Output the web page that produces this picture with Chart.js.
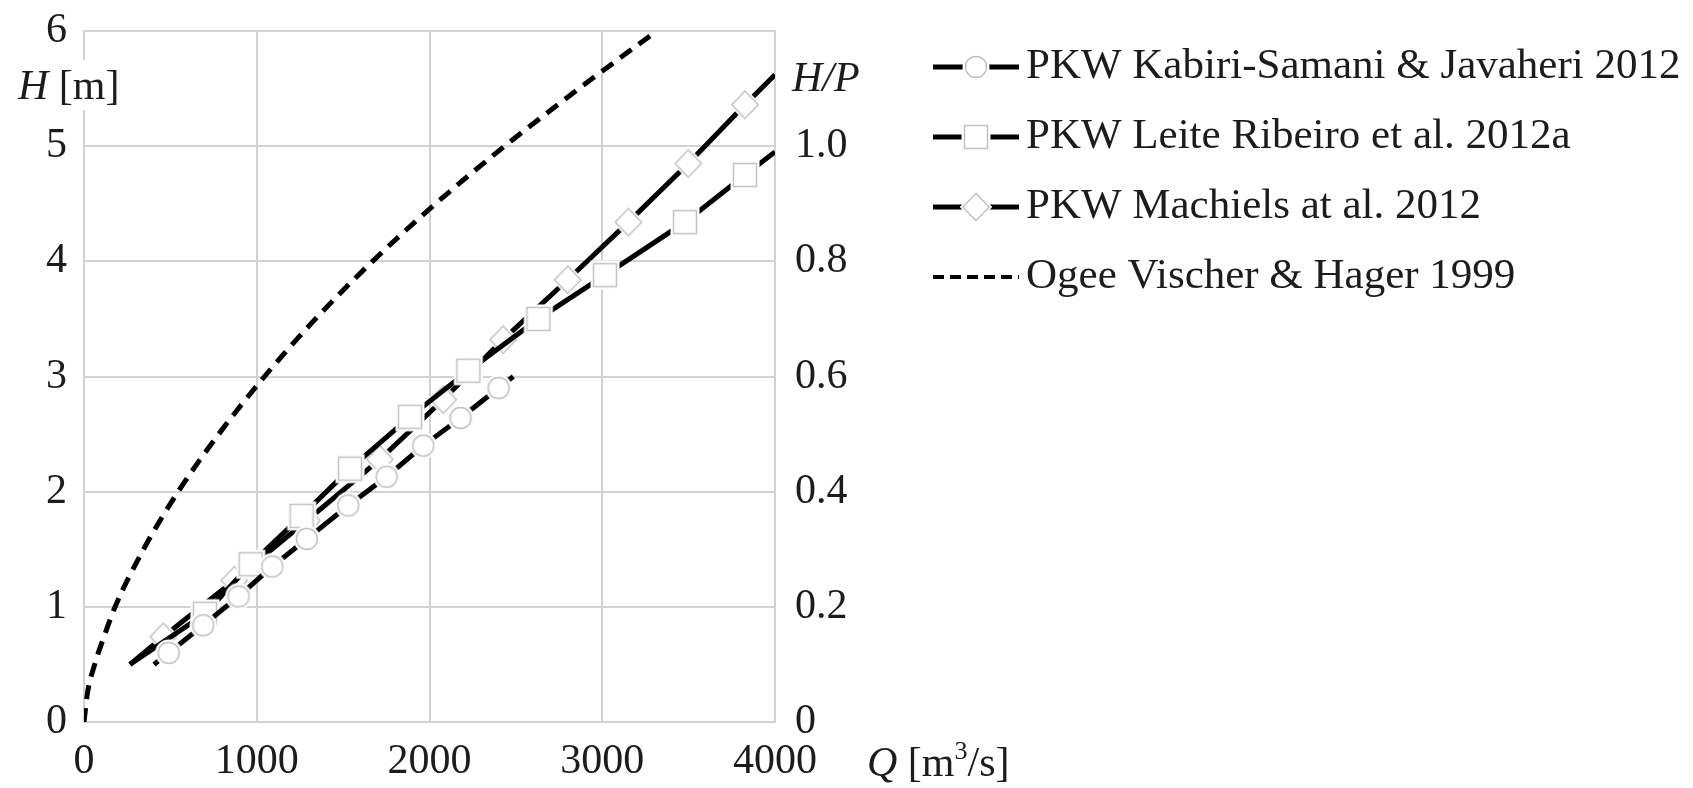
<!DOCTYPE html>
<html>
<head>
  <title>PKW rating curves</title>
  <meta name="viewport" content="width=device-width, initial-scale=1">
  <script src="https://cdn.jsdelivr.net/npm/chart.js"></script>
  <style>
    html, body {
      margin: 0;
      padding: 0;
      background: #fff;
      overflow: hidden;
    }

    #chart-container {
      width: 1693px;
      height: 788px;
    }
  </style>
</head>
<body>

  <div id="chart-container">
    <canvas id="myChart"></canvas>
  </div>

  <script>
    // values: Q [m3/s] against H [m]
    const seriesNames = [
      'PKW Kabiri-Samani & Javaheri 2012',
      'PKW Leite Ribeiro et al. 2012a',
      'PKW Machiels at al. 2012',
      'Ogee Vischer & Hager 1999'
    ];

    const qKabiri = [405, 490, 690, 895, 1090, 1290, 1530, 1752, 1964, 2180, 2400, 2485];
    const hKabiri = [0.50, 0.60, 0.84, 1.09, 1.35, 1.59, 1.88, 2.13, 2.40, 2.64, 2.90, 3.00];

    const qLeite = [266, 700, 965, 1260, 1540, 1887, 2225, 2630, 3016, 3479, 3826, 4000];
    const hLeite = [0.50, 0.94, 1.37, 1.79, 2.20, 2.65, 3.05, 3.50, 3.88, 4.34, 4.75, 4.95];

    const qMachiels = [266, 459, 870, 1290, 1713, 2080, 2426, 2800, 3151, 3498, 3826, 4000];
    const hMachiels = [0.50, 0.74, 1.23, 1.75, 2.28, 2.80, 3.32, 3.84, 4.34, 4.85, 5.36, 5.62];

    const qOgee = [0, 20, 62, 118, 180, 345, 545, 780, 1045, 1340, 1670, 2035, 2435, 2865, 3315];
    const hOgee = [0, 0.25, 0.50, 0.75, 1.00, 1.50, 2.00, 2.50, 3.00, 3.50, 4.00, 4.50, 5.00, 5.50, 6.00];

    const qTicks = [0, 1000, 2000, 3000, 4000];
    const hTicks = [0, 1, 2, 3, 4, 5, 6];
    const hpTicks = [0, 0.2, 0.4, 0.6, 0.8, 1.0];

    const SERIF = '"Liberation Serif", "Times New Roman", serif';
    const INK = '#1c1c1c';

    function pairs(xs, ys) {
      return xs.map((x, i) => ({ x: x, y: ys[i] }));
    }

    // white marker with faint grey outline and a small white halo
    function markerImage(shape) {
      const size = 38, m = size / 2;
      const c = document.createElement('canvas');
      c.width = size;
      c.height = size;
      const g = c.getContext('2d');
      function path(r) {
        g.beginPath();
        if (shape === 'circle') {
          g.arc(m, m, r, 0, Math.PI * 2);
        } else if (shape === 'square') {
          g.rect(m - r, m - r, 2 * r, 2 * r);
        } else {
          g.moveTo(m, m - r * 1.1);
          g.lineTo(m + r * 1.05, m);
          g.lineTo(m, m + r * 1.1);
          g.lineTo(m - r * 1.05, m);
          g.closePath();
        }
      }
      const r = shape === 'circle' ? 10.5 : (shape === 'square' ? 11.5 : 12.5);
      g.fillStyle = '#fff';
      path(r + 3);
      g.fill();
      path(r);
      g.fill();
      g.strokeStyle = '#c2c2c2';
      g.lineWidth = 1.5;
      g.stroke();
      return c;
    }

    const markers = [markerImage('circle'), markerImage('square'), markerImage('diamond')];

    // no marker on the first and last vertex of each curve
    const endFree = c => (c.dataIndex === 0 || c.dataIndex === c.dataset.data.length - 1) ? 0 : 11;

    function pkwSet(i, data) {
      return {
        label: seriesNames[i],
        data: data,
        showLine: true,
        borderColor: '#000',
        borderWidth: 5,
        tension: 0,
        pointStyle: markers[i],
        pointRadius: endFree,
        pointHoverRadius: endFree
      };
    }

    // legend and axis titles drawn as text on the canvas
    const figureText = {
      id: 'figureText',
      afterDraw(chart) {
        const ctx = chart.ctx;
        ctx.save();
        ctx.fillStyle = INK;
        ctx.textBaseline = 'alphabetic';
        ctx.textAlign = 'left';

        function run(parts, x, y) {
          parts.forEach(p => {
            ctx.font = p.font;
            ctx.fillText(p.text, x, y + (p.dy || 0));
            x += ctx.measureText(p.text).width;
          });
        }
        const up = '42px ' + SERIF;
        const it = 'italic 42px ' + SERIF;

        // H [m] sits over the left axis line
        ctx.fillStyle = '#fff';
        ctx.fillRect(14, 60, 114, 50);
        ctx.fillStyle = INK;
        run([{ text: 'H', font: it }, { text: ' [m]', font: up }], 18, 99);
        run([{ text: 'H/P', font: it }], 792, 91);
        run([
          { text: 'Q', font: it },
          { text: ' [m', font: up },
          { text: '3', font: '26px ' + SERIF, dy: -17 },
          { text: '/s]', font: up }
        ], 867, 776);

        // legend
        chart.data.datasets.forEach((ds, i) => {
          const y = 67 + 70 * i;
          ctx.strokeStyle = '#000';
          ctx.beginPath();
          if (i < 3) {
            ctx.lineWidth = 5;
            ctx.setLineDash([]);
          } else {
            ctx.lineWidth = 4;
            ctx.setLineDash([11, 6]);
          }
          ctx.moveTo(933, y);
          ctx.lineTo(1019, y);
          ctx.stroke();
          ctx.setLineDash([]);
          if (i < 3) {
            const img = markers[i];
            ctx.drawImage(img, 976 - img.width / 2, y - img.height / 2);
          }
          ctx.font = '43px ' + SERIF;
          ctx.fillStyle = INK;
          ctx.textBaseline = 'middle';
          ctx.fillText(ds.label, 1026, y);
        });
        ctx.restore();
      }
    };

    const gridColor = '#d2d2d2';

    const ctx = document.getElementById('myChart').getContext('2d');
    const chart = new Chart(ctx, {
      type: 'scatter',
      data: {
        datasets: [
          pkwSet(0, pairs(qKabiri, hKabiri)),
          pkwSet(1, pairs(qLeite, hLeite)),
          pkwSet(2, pairs(qMachiels, hMachiels)),
          {
            label: seriesNames[3],
            data: pairs(qOgee, hOgee),
            showLine: true,
            borderColor: '#000',
            borderWidth: 5,
            borderDash: [14, 9],
            cubicInterpolationMode: 'monotone',
            pointRadius: 0,
            pointHoverRadius: 0
          }
        ]
      },
      options: {
        responsive: true,
        maintainAspectRatio: false,
        animation: false,
        layout: {
          padding: { left: 0, top: 31, right: 818, bottom: 0 }
        },
        plugins: {
          legend: { display: false },
          tooltip: { enabled: false }
        },
        scales: {
          x: {
            type: 'linear',
            min: 0,
            max: 4000,
            afterBuildTicks: s => { s.ticks = qTicks.map(v => ({ value: v })); },
            afterFit: s => { s.height = 66; s.paddingLeft = 0; s.paddingRight = 0; },
            grid: { color: gridColor, lineWidth: 2, drawTicks: false },
            border: { color: gridColor, width: 2 },
            ticks: {
              padding: 15,
              maxRotation: 0,
              color: INK,
              font: { family: SERIF, size: 42 },
              callback: v => String(v)
            }
          },
          y: {
            type: 'linear',
            position: 'left',
            min: 0,
            max: 6,
            afterBuildTicks: s => { s.ticks = hTicks.map(v => ({ value: v })); },
            afterFit: s => { s.width = 84; s.paddingTop = 0; s.paddingBottom = 0; },
            grid: { color: gridColor, lineWidth: 2, drawTicks: false },
            border: { color: gridColor, width: 2 },
            ticks: {
              padding: 17,
              color: INK,
              font: { family: SERIF, size: 42 },
              callback: v => String(v)
            }
          },
          hp: {
            type: 'linear',
            position: 'right',
            min: 0,
            max: 1.2,
            afterBuildTicks: s => { s.ticks = hpTicks.map(v => ({ value: v })); },
            afterFit: s => { s.width = 100; s.paddingTop = 0; s.paddingBottom = 0; },
            grid: { display: false, drawTicks: false },
            border: { color: gridColor, width: 2 },
            ticks: {
              padding: 20,
              color: INK,
              font: { family: SERIF, size: 42 },
              callback: v => v === 0 ? '0' : v.toFixed(1)
            }
          }
        }
      },
      plugins: [figureText]
    });
  </script>

</body>
</html>
